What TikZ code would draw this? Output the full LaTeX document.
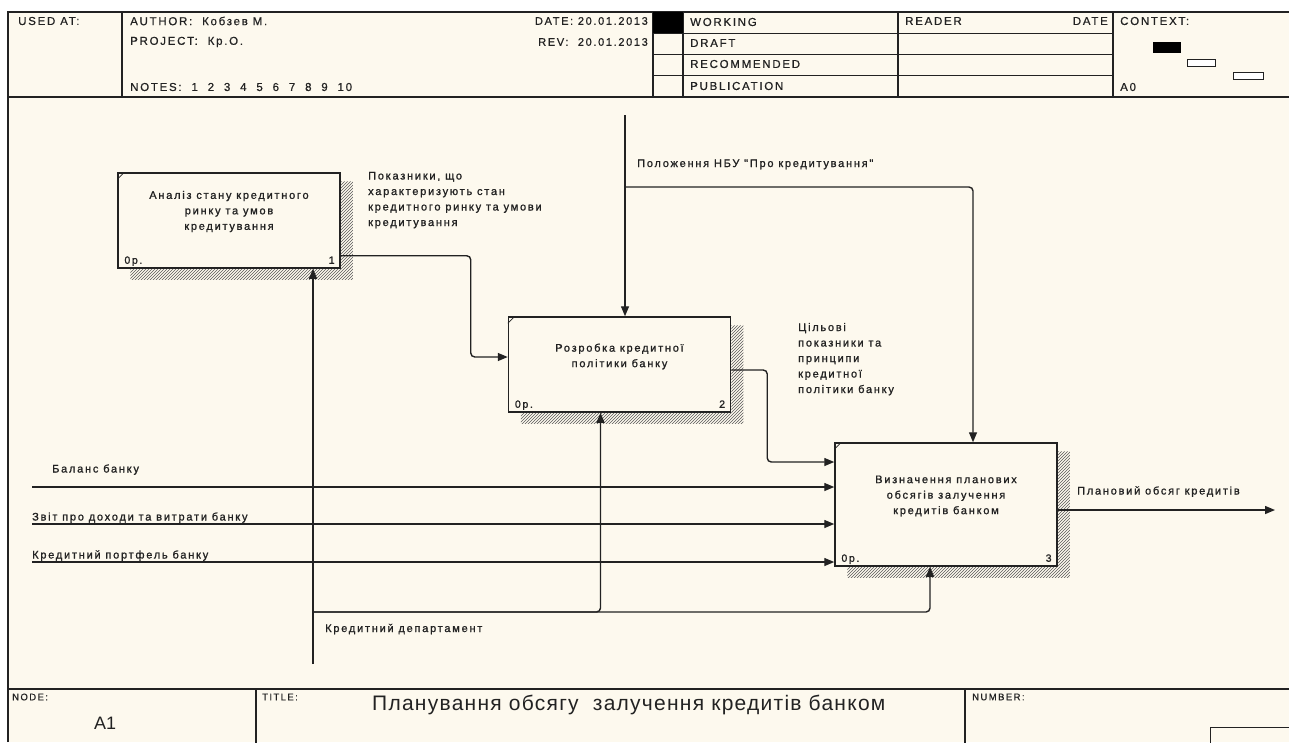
\documentclass[tikz,border=0pt]{standalone}
\usepackage{fontspec}
\setmainfont{Liberation Sans}
\newfontfamily\lblfont[LetterSpace=16,FakeBold=1.2]{Liberation Sans}
\newfontfamily\hdrfont[LetterSpace=15,FakeBold=0.6]{Liberation Sans}
\newfontfamily\titlefont[LetterSpace=6]{Liberation Sans}
\usetikzlibrary{arrows.meta,patterns,calc}

\definecolor{paper}{HTML}{FDF9EE}
\definecolor{ink}{HTML}{222222}

\tikzset{
  frame/.style={draw=ink, line width=1.3pt},
  thin/.style={draw=ink, line width=0.9pt},
  idefbox/.style={draw=ink, line width=1.5pt, rectangle, minimum width=222pt,
    minimum height=95pt, inner sep=0pt},
  boxtext/.style={font=\lblfont\fontsize{11}{15.5}\selectfont, align=center, text=ink},
  lbl/.style={font=\lblfont\fontsize{11}{15.5}\selectfont, align=left, text=ink,
    inner sep=0pt, anchor=base west},
  corner/.style={font=\lblfont\fontsize{10.5}{12}\selectfont, text=ink, inner sep=0pt},
  arr/.style={draw=ink, line width=1.4pt, -{Triangle[length=10pt,width=8pt]}},
  hdr/.style={font=\hdrfont\fontsize{11.5}{13}\selectfont, text=ink, inner sep=0pt, anchor=west},
  foot/.style={font=\hdrfont\fontsize{9.5}{11}\selectfont, text=ink, inner sep=0pt, anchor=west},
  shade/.style={pattern=north east lines, pattern color=black!65, draw=none},
}

\begin{document}
\begin{tikzpicture}[x=1pt,y=-1pt]
\useasboundingbox (0,0) rectangle (1289,742);
\clip (0,0) rectangle (1289,742);
\fill[white] (0,0) rectangle (1289,742);
\fill[paper] (8,12) rectangle (1289,742);

% ---------- header ----------
\draw[frame] (8,742) -- (8,12) -- (1295,12);
\draw[frame] (8,97) -- (1295,97);
\draw[frame] (122,12) -- (122,97);
\draw[frame] (653,12) -- (653,97);
\draw[frame] (683,12) -- (683,97);
\draw[frame] (898,12) -- (898,97);
\draw[frame] (1113,12) -- (1113,97);
\draw[thin] (653,33) -- (1113,33);
\draw[thin] (653,54) -- (1113,54);
\draw[thin] (653,75) -- (1113,75);
\fill[black] (653,12) rectangle (683,33);

\node[hdr] (usedat) at (18,21) {USED AT:};
\node[hdr] (author) at (130,21) {AUTHOR:\ \ Кобзев М.};
\node[hdr] (project) at (130,42) {PROJECT:\ \ Кр.О.};
\node[hdr] (notes) at (130,87) {NOTES:\ \ 1\ \ 2\ \ 3\ \ 4\ \ 5\ \ 6\ \ 7\ \ 8\ \ 9\ \ 10};
\node[hdr, anchor=east, font=\hdrfont\fontsize{11}{13}\selectfont] (date) at (648,21) {DATE:\ 20.01.2013};
\node[hdr, anchor=east, font=\hdrfont\fontsize{11}{13}\selectfont] (rev) at (648,42) {REV:\ \ 20.01.2013};
\node[hdr] (working) at (690,22) {WORKING};
\node[hdr] (draft) at (690,43) {DRAFT};
\node[hdr] (recom) at (690,64) {RECOMMENDED};
\node[hdr] (publ) at (690,86) {PUBLICATION};
\node[hdr] (reader) at (905,21) {READER};
\node[hdr, anchor=east] (rdate) at (1108,21) {DATE};
\node[hdr] (context) at (1120,21) {CONTEXT:};
\node[hdr] (azero) at (1120,87) {A0};
\fill[black] (1153,42) rectangle (1181,53);
\draw[thin, fill=white] (1187,59) rectangle (1215,66);
\draw[thin, fill=white] (1233,72) rectangle (1263,79);

% ---------- footer ----------
\draw[frame] (8,689) -- (1295,689);
\draw[frame] (256,689) -- (256,745);
\draw[frame] (965,689) -- (965,745);
\draw[thin] (1210,745) -- (1210,727) -- (1295,727);
\node[foot] (nodelbl) at (12,697) {NODE:};
\node[foot] (titlelbl) at (262,697) {TITLE:};
\node[foot] (numlbl) at (972,697) {NUMBER:};
\node[font=\fontsize{18}{20}\selectfont, text=ink, anchor=west, inner sep=0pt] (nodeid) at (94,723) {A1};
\node[font=\titlefont\fontsize{21}{24}\selectfont, text=ink, anchor=west, inner sep=0pt] (title) at (372,705)
  {Планування обсягу\ \ залучення кредитів банком};

% ---------- activity boxes ----------
\node[idefbox] (b1) at (229,220.5) {};
\node[idefbox] (b2) at (619.5,364.5) {};
\node[idefbox, minimum height=123pt] (b3) at (946,504.5) {};

\foreach \b in {b1,b2,b3}{
  \fill[shade] ([yshift=-9pt]\b.north east) -- ++(12,0) |- ([xshift=13pt,yshift=-11pt]\b.south west)
    -- ([xshift=13pt]\b.south west) -- (\b.south east) -- cycle;
  \draw[ink, line width=0.7pt] ([yshift=-7pt]\b.north west) -- ([xshift=7pt]\b.north west);
  \node[corner, anchor=base west] at ([xshift=7pt,yshift=5pt]\b.south west) {0р.};
}
\node[corner, anchor=base east] (n1) at ([xshift=-6pt,yshift=5pt]b1.south east) {1};
\node[corner, anchor=base east] (n2) at ([xshift=-6pt,yshift=5pt]b2.south east) {2};
\node[corner, anchor=base east] (n3) at ([xshift=-6pt,yshift=5pt]b3.south east) {3};

\node[boxtext] (t1) at ([yshift=9pt]b1.center) {Аналіз стану кредитного\\ринку та умов\\кредитування};
\node[boxtext] (t2) at ([yshift=8pt]b2.center) {Розробка кредитної\\політики банку};
\node[boxtext] (t3) at ([yshift=8.5pt]b3.center) {Визначення планових\\обсягів залучення\\кредитів банком};

% ---------- free ends ----------
\coordinate (ctop) at (625,115);
\coordinate (cbr) at (625,187);
\coordinate (in1) at (32,487);
\coordinate (in2) at (32,524);
\coordinate (in3) at (32,562);
\coordinate (mbot) at (313,664);
\coordinate (mbr) at (313,612);
\coordinate (cout) at (1275,510);

% ---------- connectors ----------
\draw[arr, rounded corners=4pt] ([yshift=13pt]b1.south east) -- ++(130,0) |- ([yshift=7.5pt]b2.west);
\draw[arr] (ctop) -- (ctop |- b2.north);
\draw[arr, rounded corners=4pt] (cbr) -| ([xshift=27pt]b3.north);
\draw[arr, rounded corners=4pt] ([yshift=-5.5pt]b2.east) -- ++(36,0) |- ([yshift=42.5pt]b3.west);
\draw[arr] (in1) -- (in1 -| b3.west);
\draw[arr] (in2) -- (in2 -| b3.west);
\draw[arr] (in3) -- (in3 -| b3.west);
\draw[arr] ([yshift=-5.5pt]b3.east) -- (cout);
\draw[arr] (mbot) -- (mbot |- b1.south);
\draw[arr, rounded corners=4pt] (mbr) -| ([xshift=-16pt]b3.south);
\draw[arr, rounded corners=4pt] (mbr) -| ([xshift=-19pt]b2.south);

% ---------- arrow labels (base = last line) ----------
\node[lbl] (l1) at (368,226) {Показники, що\\характеризують стан\\кредитного ринку та умови\\кредитування};
\node[lbl] (l2) at (637,167) {Положення НБУ "Про кредитування"};
\node[lbl] (l3) at (798,393) {Цільові\\показники та\\принципи\\кредитної\\політики банку};
\node[lbl] (l4) at (52,472.5) {Баланс банку};
\node[lbl] (l5) at (32,520.5) {Звіт про доходи та витрати банку};
\node[lbl] (l6) at (32,558.5) {Кредитний портфель банку};
\node[lbl] (l7) at (1077,494.5) {Плановий обсяг кредитів};
\node[lbl] (l8) at (325,632) {Кредитний департамент};
\end{tikzpicture}
\end{document}
